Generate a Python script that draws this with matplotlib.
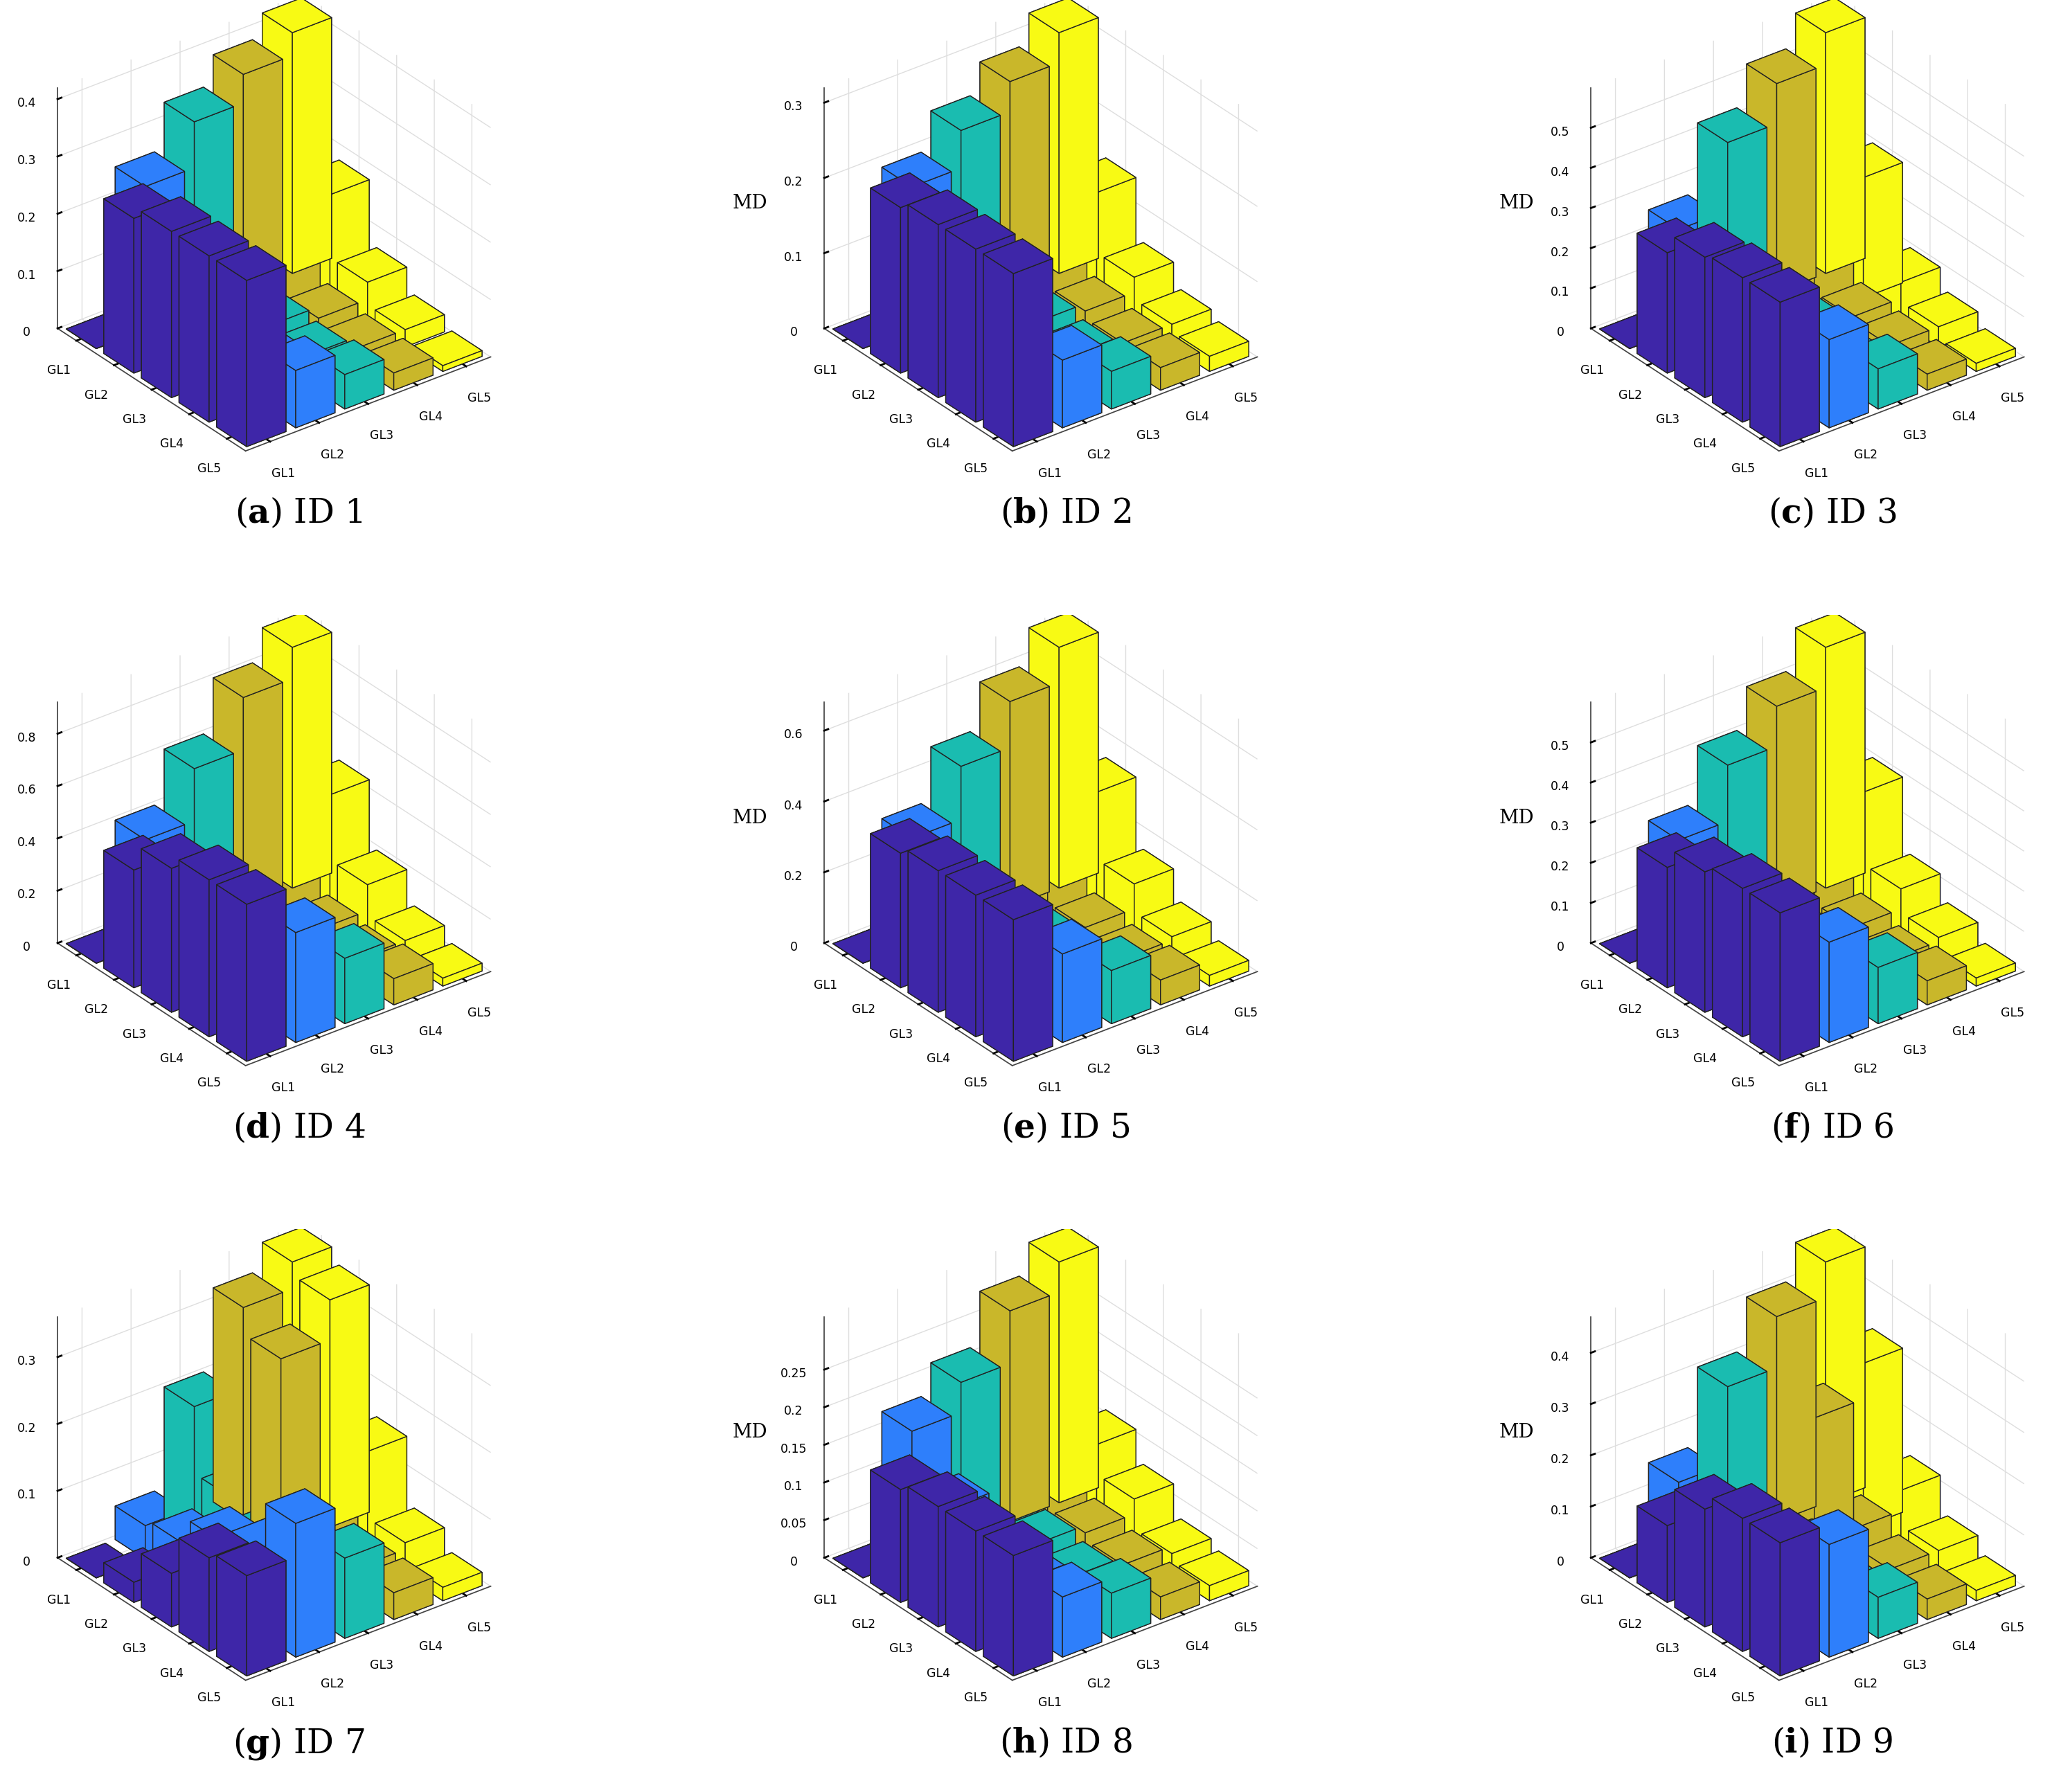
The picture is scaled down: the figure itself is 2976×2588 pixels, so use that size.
import numpy as np
import matplotlib
matplotlib.use("Agg")
import matplotlib.pyplot as plt

plt.rcParams["mathtext.fontset"] = "dejavuserif"

labels = ["GL1", "GL2", "GL3", "GL4", "GL5"]
col_colors = ["#3e26a8", "#2e7ffb", "#1abcb0", "#c9b72a", "#f8fa14"]
zmax = [0.4, 0.3, 0.5, 0.8, 0.6, 0.5, 0.3, 0.25, 0.4]
zstep = [0.1, 0.1, 0.1, 0.2, 0.2, 0.1, 0.1, 0.05, 0.1]

# rows = GL1..GL5 on left axis, columns = GL1..GL5 on right axis
md_1 = [[0, .25, .33, .38, .42], [.27, .15, .10, .14, .18], [.29, .10, .06, .04, .07],
        [.29, .08, .05, .03, .03], [.29, .10, .06, .03, .01]]
md_2 = [[0, .19, .24, .28, .32], [.22, .12, .08, .10, .14], [.23, .08, .05, .04, .06],
        [.23, .06, .04, .03, .03], [.23, .09, .05, .03, .02]]
md_3 = [[0, .25, .42, .52, .60], [.30, .18, .12, .18, .30], [.35, .12, .08, .06, .10],
        [.36, .10, .06, .05, .05], [.36, .22, .10, .04, .02]]
md_4 = [[0, .40, .60, .80, .92], [.45, .30, .20, .30, .45], [.55, .20, .12, .10, .20],
        [.60, .15, .10, .08, .08], [.60, .42, .25, .10, .03]]
md_5 = [[0, .30, .45, .58, .68], [.38, .22, .15, .20, .34], [.40, .15, .10, .08, .15],
        [.40, .12, .08, .06, .07], [.40, .25, .15, .07, .03]]
md_6 = [[0, .26, .40, .50, .60], [.30, .18, .12, .20, .30], [.35, .12, .08, .07, .12],
        [.37, .10, .06, .05, .06], [.37, .25, .14, .06, .02]]
md_7 = [[0, .05, .20, .32, .36], [.03, .06, .10, .28, .34], [.08, .10, .08, .10, .15],
        [.14, .12, .06, .04, .05], [.15, .20, .12, .04, .02]]
md_8 = [[0, .17, .21, .28, .32], [.15, .10, .08, .10, .11], [.16, .08, .06, .05, .07],
        [.16, .07, .05, .04, .03], [.16, .08, .06, .03, .02]]
md_9 = [[0, .15, .30, .40, .47], [.15, .12, .10, .25, .32], [.23, .10, .07, .08, .12],
        [.26, .09, .05, .05, .05], [.26, .22, .08, .04, .02]]
data = [md_1, md_2, md_3, md_4, md_5, md_6, md_7, md_8, md_9]
letters = "abcdefghi"

fig = plt.figure(figsize=(11.904, 10.352), dpi=250)
w = 0.8
for k, md in enumerate(data):
    r, c = divmod(k, 3)
    ax = fig.add_axes([-0.005 + c * 0.372, 0.745 - r * 0.343, 0.27, 0.255], projection="3d")
    ax.set_proj_type("ortho")
    md = np.array(md)
    for j in range(5):
        for i in range(5):
            ax.bar3d(j + 1 - w / 2, i + 1 - w / 2, 0, w, w, md[i, j],
                     color=col_colors[j], edgecolor="#222222", linewidth=0.4, shade=False)
    top = max(zmax[k], md.max())
    ax.set_xlim(0.5, 5.5)
    ax.set_ylim(5.5, 0.5)
    ax.set_zlim(0, top)
    ax.set_box_aspect((1, 1, 0.9), zoom=1.1)
    ax.view_init(elev=30, azim=-127.5)
    ax.set_xticks(range(1, 6))
    ax.set_xticklabels(labels, fontsize=5)
    ax.set_yticks(range(1, 6))
    ax.set_yticklabels(labels, fontsize=5)
    zt = np.arange(0, zmax[k] + 1e-9, zstep[k])
    ax.set_zticks(zt)
    ax.set_zticklabels([f"{v:g}" for v in np.round(zt, 2)], fontsize=5)
    ax.tick_params(labelsize=5, pad=-1)
    ax.set_zlabel("MD", fontsize=8, family="DejaVu Serif", labelpad=-4)
    for a in (ax.xaxis, ax.yaxis, ax.zaxis):
        a.set_pane_color((1, 1, 1, 0))
        a.line.set_color("#444444")
        a.line.set_linewidth(0.5)
        a._axinfo["grid"]["color"] = (0.87, 0.87, 0.87, 1)
        a._axinfo["grid"]["linewidth"] = 0.4
        a._axinfo["tick"]["inward_factor"] = 0.0
        a._axinfo["tick"]["outward_factor"] = 0.2
    fig.text(0.145 + c * 0.372, 0.708 - r * 0.343,
             rf"($\mathbf{{{letters[k]}}}$) ID {k + 1}", ha="center",
             fontsize=14, family="DejaVu Serif")

fig.savefig("out.png", dpi=250)
